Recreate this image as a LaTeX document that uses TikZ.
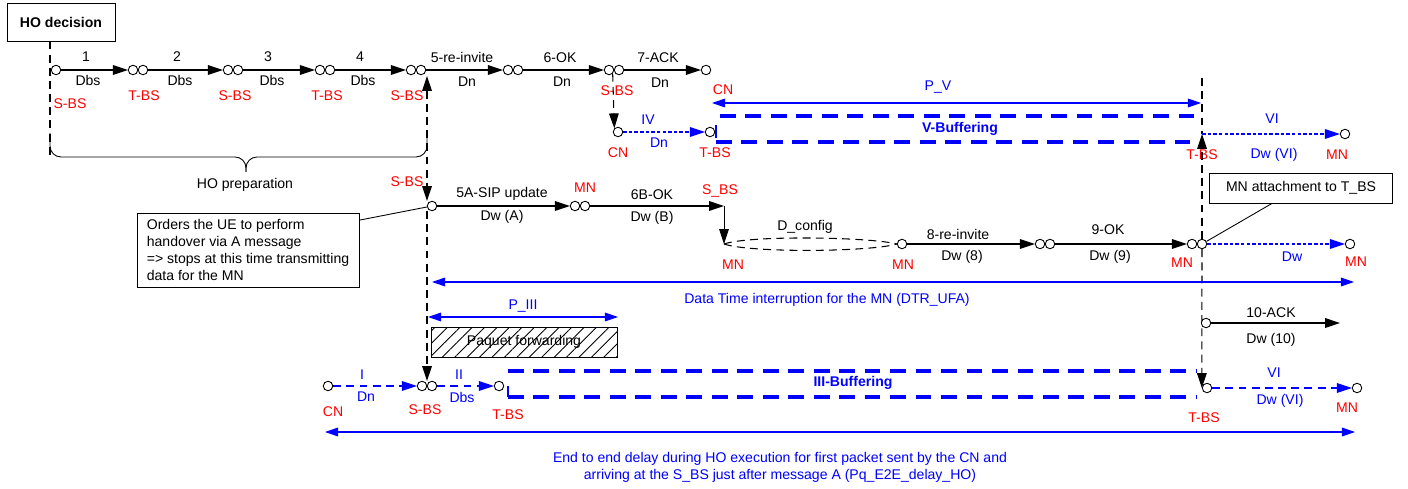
\documentclass[tikz,border=0pt]{standalone}
\usepackage{fontspec}
\setmainfont{Liberation Sans}
\usepackage{tikz}
\usetikzlibrary{arrows.meta, patterns.meta}

\begin{document}
\begin{tikzpicture}[x=0.02cm, y=-0.02cm, font=\fontsize{8}{9.6}\selectfont, >={Triangle[length=8.5pt,width=5.5pt]}]
\useasboundingbox (0,0) rectangle (1408,489);

% 0. Stile
\tikzset{
  portcircle/.style={draw, circle, fill=white, inner sep=0pt, minimum size=0.19cm, line width=0.5pt},
  msgarrow/.style={line width=0.6pt, ->},
  vline/.style={line width=0.6pt, dash pattern=on 4.5pt off 3pt},
  dotblue/.style={blue, line width=0.6pt, dash pattern=on 2pt off 1.2pt, ->},
  dashblue/.style={blue, line width=0.6pt, dash pattern=on 4.5pt off 3pt, ->},
  bufferline/.style={blue, line width=2pt, dash pattern=on 9pt off 5.5pt},
  spanarrow/.style={blue, line width=0.6pt, {Triangle[length=7.5pt,width=5pt]}-{Triangle[length=7.5pt,width=5pt]}},
  txt/.style={inner sep=0pt},
  redtxt/.style={text=red, inner sep=0pt},
  bluetxt/.style={text=blue, inner sep=0pt},
  infobox/.style={draw, line width=0.5pt, fill=white}
}

% 1. HO decision und HO preparation
\node[infobox, minimum width=2.16cm, minimum height=0.76cm, font=\fontsize{8}{9.6}\selectfont\bfseries] (hodec) at (61,22) {HO decision};
\coordinate (hoend) at (50,158);
\draw[vline] (hodec.south -| hoend) -- (hoend);
\draw[line width=0.5pt, rounded corners=0.22cm] (50,133) -- (50,157) -- (246,157) -- (246,172);
\draw[line width=0.5pt, rounded corners=0.22cm] (427,133) -- (427,157) -- (246,157) -- (246,172);
\node[txt] (hoprep) at (245,185) {HO preparation};

% 2. Nachrichten 1 bis 7
\node[portcircle] (sbs0) at (56,70) {};
\node[portcircle] (p1a) at (133,70) {};
\node[portcircle] (p1b) at (143,70) {};
\node[portcircle] (p2a) at (228,70) {};
\node[portcircle] (p2b) at (238,70) {};
\node[portcircle] (p3a) at (320,70) {};
\node[portcircle] (p3b) at (330,70) {};
\node[portcircle] (p4a) at (411,70) {};
\node[portcircle] (p4b) at (421,70) {};
\node[portcircle] (p5a) at (508,70) {};
\node[portcircle] (p5b) at (518,70) {};
\node[portcircle] (p6a) at (609,70) {};
\node[portcircle] (p6b) at (619,70) {};
\node[portcircle] (p7) at (706,70) {};
\draw[msgarrow] (sbs0) -- (p1a);
\draw[msgarrow] (p1b) -- (p2a);
\draw[msgarrow] (p2b) -- (p3a);
\draw[msgarrow] (p3b) -- (p4a);
\draw[msgarrow] (p4b) -- (p5a);
\draw[msgarrow] (p5b) -- (p6a);
\draw[msgarrow] (p6b) -- (p7);

\node[txt] (m1) at (86,57) {1};
\node[txt] (m2) at (177,57) {2};
\node[txt] (m3) at (268,57) {3};
\node[txt] (m4) at (360,57) {4};
\node[txt] (m5) at (462,57) {5-re-invite};
\node[txt] (m6) at (560,58) {6-OK};
\node[txt] (m7) at (658,58) {7-ACK};
\node[txt] (d1) at (88,80) {Dbs};
\node[txt] (d2) at (180,80) {Dbs};
\node[txt] (d3) at (272,80) {Dbs};
\node[txt] (d4) at (363,80) {Dbs};
\node[txt] (d5) at (467,82) {Dn};
\node[txt] (d6) at (562,82) {Dn};
\node[txt] (d7) at (660,83) {Dn};

\node[redtxt] (r0) at (70,104) {S-BS};
\node[redtxt] (r1) at (144,96) {T-BS};
\node[redtxt] (r2) at (235,96) {S-BS};
\node[redtxt] (r3) at (327,96) {T-BS};
\node[redtxt] (r4) at (407,96) {S-BS};
\node[redtxt] (r6) at (617,91) {S-BS};
\node[redtxt] (r7) at (723,90) {CN};

% 3. Weiterleitung IV und V-Buffering
\node[portcircle] (cn4) at (618,132) {};
\node[portcircle] (tbs4) at (710,132) {};
\draw[vline, ->] (p6a.south east) -- (cn4.north west);
\draw[dotblue] (cn4) -- (tbs4);
\node[bluetxt] (iv) at (648,120) {IV};
\node[bluetxt] (ivdn) at (659,143) {Dn};
\node[redtxt] (cn4lab) at (618,153) {CN};
\node[redtxt] (tbs4lab) at (715,153) {T-BS};

\coordinate (pvl) at (712,103);
\coordinate (pvr) at (1201,103);
\draw[spanarrow] (pvl) -- (pvr);
\node[bluetxt] (pv) at (938,87) {P\_V};

\draw[bufferline] (720,116) -- (1200,116);
\draw[bufferline] (716,142) -- (1200,142);
\draw[blue, line width=1pt] (716,125) -- (716,138);
\node[bluetxt, font=\fontsize{8}{9.6}\selectfont\bfseries] (vbuf) at (960,129) {V-Buffering};

% 4. T-BS Linie und VI oben
\coordinate (ttop) at (1202,78);
\coordinate (tbsv) at (1202,134);
\node[portcircle] (mnvi) at (1345,134) {};
\draw[vline] (ttop) -- (tbsv);
\draw[dotblue] (tbsv) -- (mnvi);
\node[bluetxt] (vi) at (1272,119) {VI};
\node[bluetxt] (vidw) at (1274,155) {Dw (VI)};
\node[redtxt] (tbsvlab) at (1202,155) {T-BS};
\node[redtxt] (mnvilab) at (1337,155) {MN};

% 5. S-BS Linie und Nachrichten 5A, 6B
\coordinate (sbstop) at (427,76);
\coordinate (sbsmid) at (427,201);
\coordinate (sbsb) at (427,211);
\coordinate (sbslow) at (427,381);
\draw[vline, <->] (sbstop) -- (sbsmid);
\draw[vline, ->] (sbsb) -- (sbslow);
\node[redtxt] (sbsalab) at (407,182) {S-BS};

\node[portcircle] (sbsa) at (432,206) {};
\node[portcircle] (mnaa) at (575,206) {};
\node[portcircle] (mnab) at (585,206) {};
\coordinate (sbs6b) at (724,206);
\coordinate (mndc) at (724,244);
\draw[msgarrow] (sbsa) -- (mnaa);
\draw[msgarrow] (mnab) -- (sbs6b);
\draw[line width=0.5pt, ->] (sbs6b) -- (mndc);
\node[txt] (m5a) at (502,194) {5A-SIP update};
\node[txt] (d5a) at (502,217) {Dw (A)};
\node[redtxt] (mnalab) at (585,188) {MN};
\node[txt] (m6b) at (652,195) {6B-OK};
\node[txt] (d6b) at (652,218) {Dw (B)};
\node[redtxt] (sbs6blab) at (720,191) {S\_BS};

% 6. D_config, 8, 9
\node[portcircle] (mndc2) at (902,244) {};
\draw[vline] (mndc) .. controls (750,235) and (870,237) .. (mndc2.west);
\draw[vline] (mndc) .. controls (750,253) and (870,252) .. (mndc2.west);
\node[txt] (dconf) at (805,227) {D\_config};
\node[redtxt] (mndclab) at (733,265) {MN};
\node[redtxt] (mndc2lab) at (903,265) {MN};

\node[portcircle] (p8a) at (1040,244) {};
\node[portcircle] (p8b) at (1050,244) {};
\node[portcircle] (p9a) at (1192,244) {};
\node[portcircle] (p9b) at (1202,244) {};
\draw[msgarrow] (mndc2) -- (p8a);
\draw[msgarrow] (p8b) -- (p9a);
\node[txt] (m8) at (958,234) {8-re-invite};
\node[txt] (d8) at (962,257) {Dw (8)};
\node[txt] (m9) at (1108,230) {9-OK};
\node[txt] (d9) at (1110,257) {Dw (9)};
\node[redtxt] (mn9lab) at (1182,263) {MN};

\node[portcircle] (mndw) at (1350,244) {};
\draw[dotblue] (p9b) -- (mndw);
\node[bluetxt] (dw) at (1292,257) {Dw};
\node[redtxt] (mndwlab) at (1356,262) {MN};

\node[portcircle] (tbs3r) at (1207,388) {};
\draw[vline, ->] (p9b) -- (tbsv);
\draw[vline, ->] (p9b) -- (tbs3r.west);

% 7. Kommentarboxen
\node[infobox, minimum width=3.66cm, minimum height=0.6cm] (attbox) at (1301,188) {MN attachment to T\_BS};
\draw[line width=0.5pt] (attbox.208) -- (p9b);
\node[infobox, minimum width=4.44cm, minimum height=1.48cm, align=left] (orders) at (248,250) {Orders the UE to perform\\handover via A message\\=> stops at this time transmitting\\data for the MN};
\draw[line width=0.5pt] (orders.15) -- (sbsa);

% 8. Zeitspannen
\coordinate (dtrl) at (432,282);
\coordinate (dtrr) at (1354,282);
\draw[spanarrow] (dtrl) -- (dtrr);
\node[bluetxt] (dtr) at (827,300) {Data Time interruption for the MN (DTR\_UFA)};

\coordinate (p3l) at (428,317);
\coordinate (p3r) at (618,317);
\draw[spanarrow] (p3l) -- (p3r);
\node[bluetxt] (piii) at (523,306) {P\_III};
\node[draw, line width=0.5pt, minimum width=3.72cm, minimum height=0.6cm, pattern={Lines[angle=45, distance=5pt, line width=0.5pt]}] (fwd) at (524,342) {Paquet forwarding};

% 9. Nachricht 10
\node[portcircle] (ack) at (1206,323) {};
\coordinate (ackend) at (1340,323);
\draw[msgarrow] (ack) -- (ackend);
\node[txt] (m10) at (1271,313) {10-ACK};
\node[txt] (d10) at (1271,340) {Dw (10)};

% 10. Untere Zeile mit III-Buffering
\node[portcircle] (cn1) at (328,386) {};
\node[portcircle] (s3a) at (422,386) {};
\node[portcircle] (s3b) at (432,386) {};
\node[portcircle] (t3) at (499,386) {};
\draw[dashblue] (cn1) -- (s3a);
\draw[dashblue] (s3b) -- (t3);
\node[bluetxt] (i) at (362,375) {I};
\node[bluetxt] (idn) at (366,397) {Dn};
\node[bluetxt] (ii) at (459,375) {II};
\node[bluetxt] (iidbs) at (462,397) {Dbs};
\node[redtxt] (cn1lab) at (333,412) {CN};
\node[redtxt] (s3lab) at (425,410) {S-BS};
\node[redtxt] (t3lab) at (508,415) {T-BS};

\draw[bufferline] (508,371) -- (1196,371);
\draw[bufferline] (508,397) -- (1196,397);
\draw[blue, line width=1pt] (508,386) -- (508,397);
\node[bluetxt, font=\fontsize{8}{9.6}\selectfont\bfseries] (iiibuf) at (853,383) {III-Buffering};

\node[portcircle] (mn3r) at (1357,388) {};
\draw[dashblue] (tbs3r) -- (mn3r);
\node[bluetxt] (vi3) at (1274,373) {VI};
\node[bluetxt] (vi3dw) at (1280,401) {Dw (VI)};
\node[redtxt] (mn3rlab) at (1347,408) {MN};
\node[redtxt] (tbs3rlab) at (1204,418) {T-BS};

% 11. Ende-zu-Ende Verzoegerung
\coordinate (e2el) at (325,432);
\coordinate (e2er) at (1355,432);
\draw[spanarrow] (e2el) -- (e2er);
\node[bluetxt, align=center] (e2e) at (780,467) {End to end delay during HO execution for first packet sent by the CN and\\arriving at the S\_BS just after message A (Pq\_E2E\_delay\_HO)};

\end{tikzpicture}
\end{document}
